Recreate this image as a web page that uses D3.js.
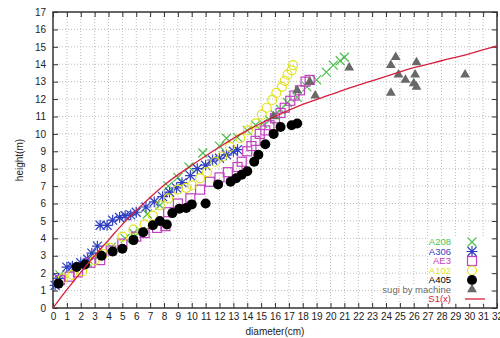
<!DOCTYPE html>
<html><head><meta charset="utf-8">
<script src="https://cdn.jsdelivr.net/npm/d3@7"></script>
<style>
body{margin:0;background:#fff;}
svg{display:block;font-family:"Liberation Sans",Arial,sans-serif;}
</style></head>
<body><svg id="c" width="500" height="338"></svg>
<script>
// ---- data ----
const xTicks = d3.range(0, 33);
const yTicks = d3.range(0, 18);
const seriesNames = ["A208", "A306", "AE3", "A102", "A405", "sugi by machine", "S1(x)"];
const A208 = [[0.5,1.9],[1.5,2.3],[2.5,2.6],[3.3,3.0],[4.2,3.5],[5.2,4.0],[5.8,4.3],[6.3,4.4],[6.8,5.4],[7.7,5.9],[8.3,7.0],[9.0,7.5],[9.8,8.1],[10.8,8.9],[12.0,9.3],[12.5,9.75],[13.3,9.8],[14.0,10.2],[14.6,10.5],[15.1,10.6],[15.6,10.8],[16.0,11.1],[16.4,11.4],[16.9,11.8],[17.6,12.1],[18.3,12.7],[19.0,13.1],[19.7,13.55],[20.2,13.95],[20.7,14.2],[21.0,14.4]];
const A306 = [[0.15,1.3],[0.4,1.7],[1.0,2.35],[1.4,2.4],[2.0,2.6],[2.5,2.8],[2.8,3.15],[3.2,3.55],[3.4,4.75],[3.9,4.75],[4.3,5.05],[4.8,5.2],[5.2,5.3],[5.6,5.35],[6.0,5.5],[6.7,5.8],[7.3,6.1],[7.9,6.4],[8.4,6.65],[8.9,6.9],[9.3,7.2],[9.9,7.6],[10.4,8.0],[11.0,8.2],[11.5,8.5],[12.0,8.6],[12.5,8.8],[13.0,9.0],[13.3,9.1]];
const AE3 = [[0.5,1.6],[1.2,1.8],[1.8,2.05],[2.7,2.6],[3.4,2.75],[4.2,3.3],[5.0,3.7],[6.0,4.1],[6.6,4.3],[7.5,4.6],[8.1,4.7],[8.3,5.5],[9.0,6.0],[9.9,6.3],[10.6,6.8],[11.3,7.25],[12.0,7.5],[12.6,7.8],[13.3,8.1],[13.6,8.4],[14.0,9.0],[14.3,9.3],[14.6,9.6],[14.9,10.0],[15.3,10.2],[15.6,10.5],[16.0,10.9],[16.4,11.2],[16.7,11.5],[17.1,11.9],[17.4,12.2],[17.8,12.5],[18.2,13.0],[18.5,13.1]];
const A102 = [[0.7,1.7],[1.4,1.9],[2.1,2.1],[3.0,2.75],[3.6,3.1],[4.1,3.45],[5.0,4.1],[5.8,4.5],[6.6,4.8],[7.2,5.3],[7.7,5.9],[8.3,6.3],[9.0,6.8],[9.6,6.9],[10.0,7.05],[10.6,7.45],[11.1,7.8],[11.7,8.4],[12.2,8.7],[12.75,9.25],[13.5,9.75],[14.05,10.2],[14.6,10.6],[15.05,11.1],[15.4,11.5],[15.8,11.95],[16.1,12.35],[16.5,12.7],[16.7,13.05],[16.9,13.4],[17.2,13.65],[17.3,13.95]];
const A405 = [[0.4,1.4],[1.7,2.35],[2.3,2.5],[3.5,3.0],[4.3,3.25],[5.0,3.4],[5.8,3.9],[6.5,4.35],[7.2,4.75],[7.7,5.0],[8.2,4.8],[8.6,5.45],[9.1,5.7],[9.6,5.75],[10.0,5.95],[11.0,6.0],[11.9,7.1],[12.8,7.25],[13.2,7.45],[13.6,7.65],[14.0,7.85],[14.5,8.4],[14.8,8.8],[15.3,9.4],[15.9,10.0],[16.4,10.4],[17.2,10.5],[17.6,10.6]];
const sugi = [[15.9,11.0],[17.6,12.5],[18.5,13.0],[18.9,12.2],[21.35,13.8],[24.35,13.95],[24.7,14.4],[24.9,13.4],[25.4,13.1],[26.0,12.9],[26.1,13.4],[26.2,12.7],[26.2,14.1],[24.35,12.35],[29.7,13.4]];
const S1 = [[0,0],[1,1.05],[2,2.05],[3,3.0],[4,3.9],[5,4.8],[6,5.6],[7,6.35],[8,7.05],[10,8.2],[12,9.25],[14,10.2],[16,11.0],[18,11.7],[20,12.25],[22,12.8],[24,13.3],[26,13.8],[28,14.2],[30,14.6],[32,15.05]];

const colors = {A208:"#4cbf4c", A306:"#2f3fc0", AE3:"#c040c0", A102:"#e2e21c", A405:"#000000", sugi:"#686868", S1:"#d4203c"};

const svg = d3.select("#c");
const x = d3.scaleLinear([0, 32], [53, 497]);
const y = d3.scaleLinear([0, 17], [308, 12]);

// grid
const g = svg.append("g");
g.selectAll(".vg").data(xTicks.slice(1, -1)).join("line")
  .attr("x1", d => x(d)).attr("x2", d => x(d)).attr("y1", y(0)).attr("y2", y(17))
  .attr("stroke", "#bcbcbc").attr("stroke-width", 1).attr("stroke-dasharray", "1,2");
g.selectAll(".hg").data(yTicks.slice(1, -1)).join("line")
  .attr("y1", d => y(d)).attr("y2", d => y(d)).attr("x1", x(0)).attr("x2", x(32))
  .attr("stroke", "#bcbcbc").attr("stroke-width", 1).attr("stroke-dasharray", "1,2");

// axes
function styleAxis(sel){
  sel.select(".domain").remove();
  sel.selectAll(".tick line").attr("stroke", "#333").attr("stroke-width", 1);
  sel.selectAll("text").attr("fill", "#222").style("font-size", "10px").style("font-family", "'Liberation Sans',Arial,sans-serif");
}
svg.append("g").attr("transform", `translate(0,${y(0)})`)
  .call(d3.axisBottom(x).tickValues(xTicks).tickFormat(d3.format("d")).tickSize(-5).tickPadding(5)).call(styleAxis);
svg.append("g").attr("transform", `translate(0,${y(17)})`)
  .call(d3.axisTop(x).tickValues(xTicks).tickFormat("").tickSize(-5)).call(styleAxis);
svg.append("g").attr("transform", `translate(${x(0)},0)`)
  .call(d3.axisLeft(y).tickValues(yTicks).tickFormat(d3.format("d")).tickSize(-5).tickPadding(7)).call(styleAxis);
svg.append("g").attr("transform", `translate(${x(32)},0)`)
  .call(d3.axisRight(y).tickValues(yTicks).tickFormat("").tickSize(-5)).call(styleAxis);

// frame
svg.append("rect").attr("x", x(0)).attr("y", y(17)).attr("width", x(32) - x(0)).attr("height", y(0) - y(17))
  .attr("fill", "none").attr("stroke", "#333").attr("stroke-width", 1.5);

// titles
svg.append("text").attr("x", (x(0) + x(32)) / 2).attr("y", 335).attr("text-anchor", "middle")
  .style("font-size", "10px").attr("fill", "#222").text("diameter(cm)");
svg.append("text").attr("transform", `translate(23,${(y(0) + y(17)) / 2}) rotate(-90)`).attr("text-anchor", "middle")
  .style("font-size", "10px").attr("fill", "#222").text("height(m)");

// symbol drawers
const R = 4.5;
function drawSym(sel, type, color){
  if (type === "cross"){
    sel.append("path").attr("d", `M${-R},${-R}L${R},${R}M${-R},${R}L${R},${-R}`).attr("stroke", color).attr("stroke-width", 1.2).attr("fill", "none");
  } else if (type === "star"){
    sel.append("path").attr("d", `M${-R},${-R}L${R},${R}M${-R},${R}L${R},${-R}M0,${-R*1.2}L0,${R*1.2}M${-R*1.2},0L${R*1.2},0`).attr("stroke", color).attr("stroke-width", 1.2).attr("fill", "none");
  } else if (type === "square"){
    sel.append("rect").attr("x", -R).attr("y", -R).attr("width", 2*R).attr("height", 2*R).attr("stroke", color).attr("stroke-width", 1.2).attr("fill", "none");
  } else if (type === "circle"){
    sel.append("circle").attr("r", R).attr("stroke", color).attr("stroke-width", 1.2).attr("fill", "none");
  } else if (type === "dot"){
    sel.append("circle").attr("r", R + 0.5).attr("fill", color);
  } else if (type === "tri"){
    sel.append("path").attr("d", d3.symbol(d3.symbolTriangle, 42)()).attr("fill", color);
  }
}
function plot(data, type, color){
  svg.append("g").selectAll("g").data(data).join("g")
    .attr("transform", d => `translate(${x(d[0])},${y(d[1])})`)
    .each(function(){ drawSym(d3.select(this), type, color); });
}
plot(A208, "cross", colors.A208);
plot(A306, "star", colors.A306);
plot(AE3, "square", colors.AE3);
plot(A102, "circle", colors.A102);
plot(A405, "dot", colors.A405);
plot(sugi, "tri", colors.sugi);

svg.append("path").datum(S1)
  .attr("d", d3.line().x(d => x(d[0])).y(d => y(d[1])).curve(d3.curveMonotoneX))
  .attr("fill", "none").attr("stroke", colors.S1).attr("stroke-width", 1.3);

// legend
const legend = [
  {name: seriesNames[0], type: "cross", color: colors.A208},
  {name: seriesNames[1], type: "star", color: colors.A306},
  {name: seriesNames[2], type: "square", color: colors.AE3},
  {name: seriesNames[3], type: "circle", color: colors.A102},
  {name: seriesNames[4], type: "dot", color: colors.A405},
  {name: seriesNames[5], type: "tri", color: colors.sugi},
  {name: seriesNames[6], type: "line", color: colors.S1}
];
const lg = svg.append("g");
legend.forEach((e, i) => {
  const cy = 242 + i * 9.5;
  const t = lg.append("text").attr("x", 451).attr("y", cy + 3.3).attr("text-anchor", "end")
    .style("font-size", "9.5px").attr("fill", e.color).text(e.name);
  const bb = t.node().getBBox();
  lg.insert("rect", "text").attr("x", bb.x - 1).attr("y", cy - 4.75).attr("width", 490 - bb.x + 1).attr("height", 9.5).attr("fill", "#fff");
  if (e.type === "line"){
    lg.append("line").attr("x1", 465).attr("x2", 485).attr("y1", cy).attr("y2", cy).attr("stroke", e.color).attr("stroke-width", 1.3);
  } else {
    const s = lg.append("g").attr("transform", `translate(472,${cy})`);
    drawSym(s, e.type, e.color);
  }
});
</script></body></html>
